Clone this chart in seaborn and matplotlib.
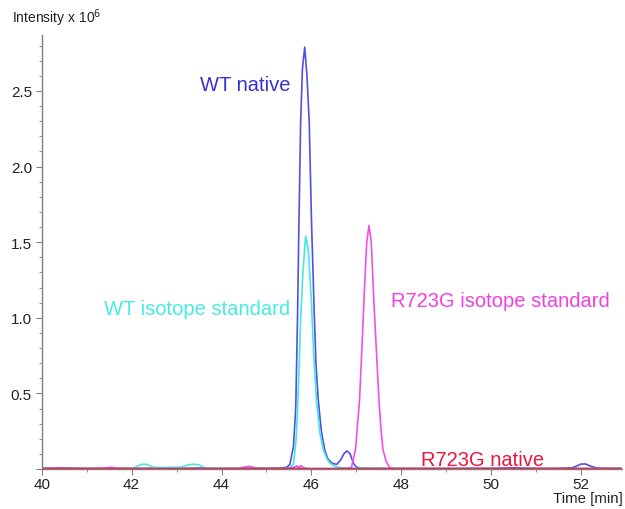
import matplotlib
matplotlib.use("Agg")
import matplotlib.pyplot as plt
from matplotlib.ticker import MultipleLocator, FuncFormatter
import seaborn as sns

# Chromatogram traces (time in min, intensity x 10^6)
wt_native_time = [40.0, 40.5, 41.0, 41.5, 42.0, 42.5, 43.0, 43.5, 44.0, 44.5, 45.0, 45.3,
                  45.45, 45.52, 45.6, 45.65, 45.69, 45.72, 45.76, 45.8, 45.85, 45.9, 45.95,
                  46.0, 46.06, 46.1, 46.15, 46.22, 46.3, 46.36, 46.45, 46.56, 46.65, 46.72,
                  46.79, 46.86, 46.93, 47.0, 47.1, 47.5, 48.0, 49.0, 50.0, 50.5, 51.0, 51.5,
                  51.8, 51.9, 52.0, 52.1, 52.2, 52.35, 52.5, 52.9]
wt_native_int = [0.004, 0.006, 0.003, 0.005, 0.003, 0.004, 0.003, 0.006, 0.003, 0.004, 0.004, 0.006,
                 0.012, 0.03, 0.15, 0.4, 1.0, 1.6, 2.3, 2.65, 2.79, 2.6, 2.3,
                 1.65, 1.05, 0.7, 0.46, 0.25, 0.12, 0.07, 0.04, 0.03, 0.06, 0.10,
                 0.12, 0.10, 0.04, 0.012, 0.005, 0.004, 0.003, 0.003, 0.004, 0.008, 0.003, 0.004,
                 0.008, 0.02, 0.033, 0.033, 0.02, 0.006, 0.004, 0.004]

wt_std_time = [40.0, 41.0, 41.8, 42.05, 42.15, 42.25, 42.35, 42.45, 42.55, 42.8, 43.1, 43.2,
               43.35, 43.5, 43.6, 43.75, 44.5, 45.3, 45.5, 45.6, 45.66, 45.7, 45.76, 45.81,
               45.87, 45.93, 46.0, 46.05, 46.11, 46.18, 46.26, 46.34, 46.41, 46.5, 46.6,
               46.7, 47.0, 48.0, 52.9]
wt_std_int = [0.002, 0.002, 0.003, 0.008, 0.022, 0.032, 0.03, 0.015, 0.01, 0.01, 0.012, 0.022,
              0.032, 0.028, 0.012, 0.004, 0.003, 0.003, 0.006, 0.03, 0.2, 0.46, 1.0, 1.3,
              1.54, 1.45, 1.1, 0.75, 0.46, 0.25, 0.13, 0.07, 0.04, 0.02, 0.01,
              0.008, 0.004, 0.002, 0.002]

r723g_std_time = [40.0, 40.5, 40.7, 41.4, 41.55, 41.7, 42.5, 44.4, 44.5, 44.6, 44.7, 44.8,
                  45.5, 45.62, 45.67, 45.72, 45.77, 45.82, 45.9, 46.5, 46.8, 46.89, 46.98,
                  47.07, 47.13, 47.18, 47.23, 47.28, 47.33, 47.39, 47.45, 47.5, 47.55, 47.59,
                  47.66, 47.74, 47.85, 48.5, 52.9]
r723g_std_int = [0.002, 0.006, 0.003, 0.004, 0.012, 0.004, 0.002, 0.003, 0.012, 0.018, 0.012, 0.003,
                 0.003, 0.012, 0.02, 0.012, 0.022, 0.008, 0.003, 0.003, 0.004, 0.01, 0.13,
                 0.46, 0.85, 1.2, 1.5, 1.61, 1.5, 1.1, 0.75, 0.46, 0.25, 0.13,
                 0.05, 0.01, 0.003, 0.003, 0.003]

r723g_native_time = [40.0, 44.0, 45.8, 46.0, 48.0, 50.0, 52.9]
r723g_native_int = [0.003, 0.003, 0.004, 0.002, 0.003, 0.003, 0.003]

sns.set_style("ticks")
plt.rcParams['font.family'] = ['Liberation Sans', 'DejaVu Sans']

fig = plt.figure(figsize=(6.25, 5.1), dpi=100)
ax = fig.add_axes([0.0667, 0.0784, 0.928, 0.851])

sns.lineplot(x=wt_native_time, y=wt_native_int, color="#5050e6", lw=1.2, sort=False, estimator=None, ax=ax)
sns.lineplot(x=wt_std_time, y=wt_std_int, color="#45e8e0", lw=1.2, sort=False, estimator=None, ax=ax)
sns.lineplot(x=r723g_std_time, y=r723g_std_int, color="#f050e6", lw=1.2, sort=False, estimator=None, ax=ax)
sns.lineplot(x=r723g_native_time, y=r723g_native_int, color="#e8204a", lw=1.2, sort=False, estimator=None, ax=ax)

# labels for the traces
ax.text(44.52, 2.54, "WT native", color="#3a30d0", fontsize=14.5, ha="center", va="center")
ax.text(43.46, 1.06, "WT isotope standard", color="#45ece4", fontsize=14.5, ha="center", va="center")
ax.text(50.2, 1.115, "R723G isotope standard", color="#f040e0", fontsize=14.5, ha="center", va="center")
ax.text(49.8, 0.066, "R723G native", color="#e8183c", fontsize=14.5, ha="center", va="center")

ax.set_xlim(40, 52.9)
ax.set_ylim(0, 2.87)
ax.xaxis.set_major_locator(MultipleLocator(2))
ax.xaxis.set_minor_locator(MultipleLocator(1))
ax.yaxis.set_major_locator(MultipleLocator(0.5))
ax.yaxis.set_minor_locator(MultipleLocator(0.1))
ax.yaxis.set_major_formatter(FuncFormatter(lambda v, p: "" if abs(v) < 1e-9 else f"{v:.1f}"))
ax.xaxis.set_major_formatter(FuncFormatter(lambda v, p: f"{v:.0f}"))

for side in ["top", "right"]:
    ax.spines[side].set_visible(False)
for side in ["left", "bottom"]:
    ax.spines[side].set_color("#808080")
    ax.spines[side].set_linewidth(1.0)
ax.tick_params(which="major", length=4, color="#808080", labelsize=11, labelcolor="#222222", pad=3)
ax.tick_params(axis="x", which="major", pad=1.5)
ax.tick_params(which="minor", length=2.5, color="#808080")
ax.set_xlabel("")
ax.set_ylabel("")

fig.text(0.019, 0.965, "Intensity x 10$^6$", fontsize=10, color="#222222", ha="left", va="center")
fig.text(0.997, 0.036, "Time [min]", fontsize=10.8, color="#222222", ha="right", va="top")

fig.savefig("out.png", dpi=100, facecolor="white")
